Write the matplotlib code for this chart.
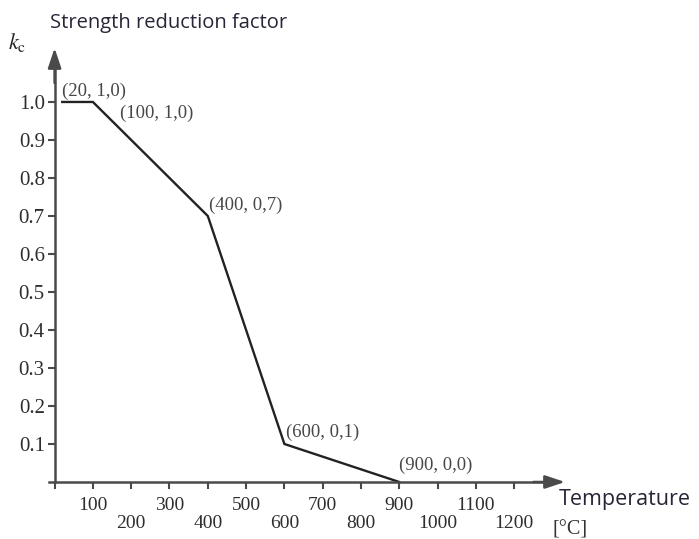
import matplotlib.pyplot as plt

# Strength reduction factor k_c vs temperature
temps = [20, 100, 400, 600, 900]
kc = [1.0, 1.0, 0.7, 0.1, 0.0]
point_labels = ['(20, 1,0)', '(100, 1,0)', '(400, 0,7)', '(600, 0,1)', '(900, 0,0)']
label_offsets = [(0, 11), (27, -11), (1, 11), (2, 12), (0, 17)]  # pixels

y_ticks = [0.1, 0.2, 0.3, 0.4, 0.5, 0.6, 0.7, 0.8, 0.9, 1.0]
x_upper = [100, 300, 500, 700, 900, 1100]
x_lower = [0, 200, 400, 600, 800, 1000, 1200]

serif = 'Liberation Serif'
axis_col = '#4a4a4a'

plt.rcParams['mathtext.fontset'] = 'stix'

fig = plt.figure(figsize=(6.99, 5.39), dpi=100)
ax = fig.add_axes([49 / 699, 57 / 539, 516 / 699, 434 / 539])
ax.set_xlim(-14.6, 1332.6)
ax.set_ylim(0, 1.142)

ax.plot(temps, kc, color='#222222', lw=1.7, solid_joinstyle='miter', clip_on=False)

for x, y, txt, off in zip(temps, kc, point_labels, label_offsets):
    ax.annotate(txt, (x, y), xytext=off, textcoords='offset pixels',
                ha='left', va='center', fontsize=13.5, family=serif, color='#474747')

# axes drawn as arrows
for s in ['top', 'right']:
    ax.spines[s].set_visible(False)
ax.spines['left'].set_position(('data', 0))
ax.spines['left'].set_bounds(0, 1.10)
ax.spines['bottom'].set_bounds(-14.6, 1300)
for s in ['left', 'bottom']:
    ax.spines[s].set_color(axis_col)
    ax.spines[s].set_linewidth(1.8)
arrow = dict(arrowstyle='-|>,head_length=0.6,head_width=0.2', color=axis_col,
             lw=1.8, mutation_scale=20, shrinkA=0, shrinkB=0)
ax.annotate('', xy=(0, 1.142), xytext=(0, 1.05), arrowprops=arrow, annotation_clip=False)
ax.annotate('', xy=(1332.6, 0), xytext=(1250, 0), arrowprops=arrow, annotation_clip=False)

ax.set_yticks(y_ticks, [f'{v:.1f}' for v in y_ticks])
ax.set_xticks(x_upper, [str(v) for v in x_upper])
ax.set_xticks(x_lower, ['' if v == 0 else str(v) for v in x_lower], minor=True)
ax.tick_params(axis='both', which='both', direction='out', length=5, width=1.5,
               color=axis_col, labelsize=14, labelcolor='#2e2e2e')
ax.tick_params(axis='y', pad=2, labelsize=15)
ax.tick_params(axis='x', which='major', pad=5.5)
ax.tick_params(axis='x', which='minor', pad=19)
for lab in ax.get_xticklabels(which='both') + ax.get_yticklabels():
    lab.set_family(serif)

fig.text(50 / 699, 1 - 23 / 539, 'Strength reduction factor', ha='left', va='center',
         fontsize=14.5, family='Open Sans', color='#262638')
fig.text(8 / 699, 1 - 43 / 539, r'$k_{\mathrm{c}}$', ha='left', va='center',
         fontsize=16, color='#222222')
fig.text(559 / 699, 1 - 500 / 539, 'Temperature', ha='left', va='center',
         fontsize=15.5, family='Open Sans', color='#262638')
fig.text(553 / 699, 1 - 530 / 539, '[°C]', ha='left', va='center',
         fontsize=14.5, family=serif, color='#333333')

fig.savefig('out.png', dpi=100)
